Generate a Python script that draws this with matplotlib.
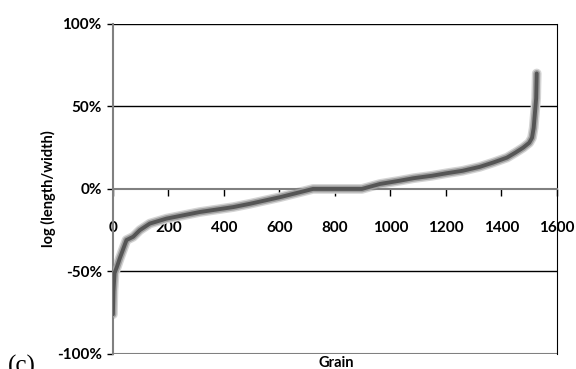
import numpy as np
import matplotlib
matplotlib.use("Agg")
import matplotlib.pyplot as plt
from matplotlib.ticker import FuncFormatter

# sorted grain aspect ratios (grain index, log(l/w) in %)
grain = [0, 2, 6, 15, 25, 49, 73, 97, 133, 193, 313, 434, 494, 602, 721,
         897, 962, 1034, 1083, 1150, 1202, 1260, 1322, 1370, 1395, 1420,
         1450, 1478, 1500, 1510, 1516, 1520, 1525, 1527]
logratio = [-76, -62, -51, -47, -42, -31, -29, -25, -21, -18, -14, -11, -9,
            -5, 0, 0, 3, 5, 6.5, 8, 9.5, 11, 13.4, 16, 17.5, 19, 22, 25,
            28, 31, 37, 45, 55, 70]

xticks = [0, 200, 400, 600, 800, 1000, 1200, 1400, 1600]
yticks = [-100, -50, 0, 50, 100]

plt.rcParams['font.family'] = ['Lato', 'DejaVu Sans']
plt.rcParams['font.weight'] = 'bold'

fig = plt.figure(figsize=(5.76, 3.69), dpi=100)
ax = fig.add_axes([0.196, 0.041, 0.771, 0.894])

# gridlines (Excel style)
for y in [50, -50, 100]:
    ax.axhline(y, color='black', lw=1.0, zorder=1)
ax.axhline(-100, color='#808080', lw=1.5, zorder=1)

# blurred grey curve
ax.plot(grain, logratio, color='#d4d4d4', lw=7, solid_capstyle='round', zorder=2)
ax.plot(grain, logratio, color='#a0a0a0', lw=5, solid_capstyle='round', zorder=3)
ax.plot(grain, logratio, color='#555555', lw=2.8, solid_capstyle='round', zorder=4)

ax.set_xlim(0, 1600)
ax.set_ylim(-100, 100)
ax.set_xticks(xticks)
ax.set_yticks(yticks)
ax.yaxis.set_major_formatter(FuncFormatter(lambda v, p: '%d%%' % v))

ax.spines['bottom'].set_position(('data', 0))
ax.spines['bottom'].set_color('#808080')
ax.spines['bottom'].set_linewidth(1.5)
ax.spines['left'].set_color('#808080')
ax.spines['left'].set_linewidth(1.5)
ax.spines['right'].set_color('black')
ax.spines['top'].set_visible(False)

ax.tick_params(axis='x', direction='out', length=5, width=1, color='black',
               pad=18, labelsize=11)
ax.tick_params(axis='y', direction='out', length=4, width=1, color='black',
               pad=4, labelsize=11)
for lbl in ax.get_xticklabels() + ax.get_yticklabels():
    lbl.set_fontweight('bold')

ax.set_ylabel('log (length/width)', fontsize=10.5, fontweight='bold')
ax.yaxis.set_label_coords(-0.128, 0.5)
fig.text(0.583, 0.016, 'Grain', ha='center', va='center', fontsize=10.5,
         fontweight='bold')
fig.text(0.014, 0.038, '(c)', ha='left', va='top', fontsize=18,
         family='Liberation Serif', fontweight='normal')

fig.savefig('out.png', dpi=100)
